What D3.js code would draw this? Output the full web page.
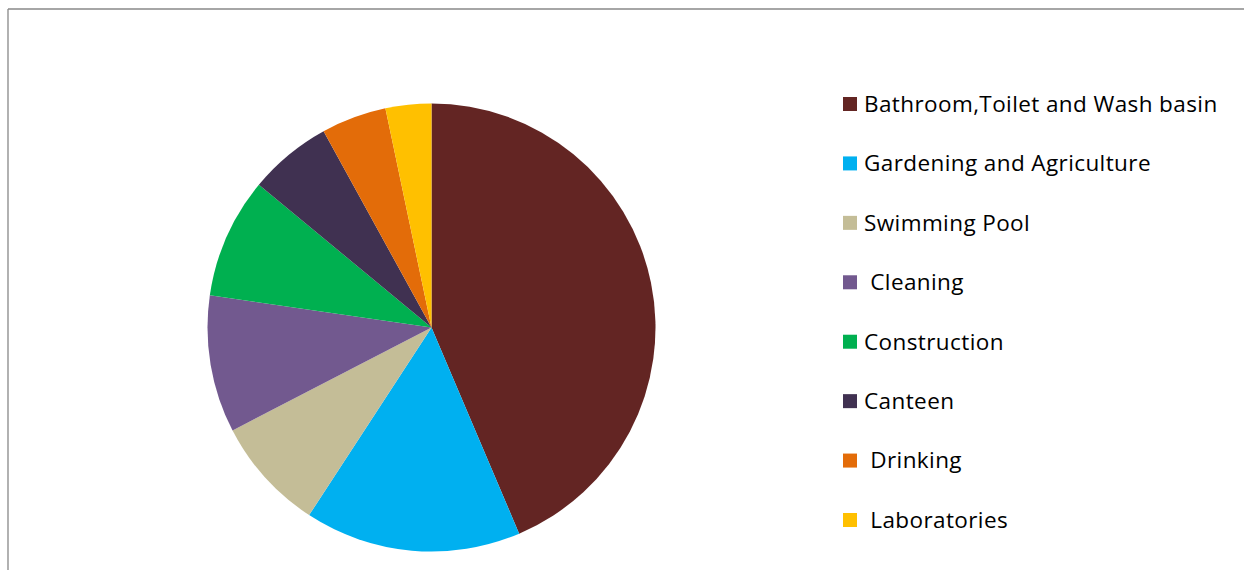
<!DOCTYPE html>
<html>
<head>
<meta charset="utf-8">
<script src="https://cdn.jsdelivr.net/npm/d3@7"></script>
<style>
  html, body { margin: 0; padding: 0; background: #fff; }
  svg { display: block; }
  .legend text { font-family: "Open Sans", Lato, sans-serif; font-size: 22.5px; letter-spacing: 0.4px; fill: #000; white-space: pre; }
</style>
</head>
<body>
<svg id="chart" width="1244" height="570"></svg>
<script>
// Water use by purpose (share of total, %)
const categories = [
  "Bathroom,Toilet and Wash basin",
  "Gardening and Agriculture",
  "Swimming Pool",
  " Cleaning",
  "Construction",
  "Canteen",
  " Drinking",
  " Laboratories"
];
const values = [43.6, 15.6, 8.2, 9.9, 8.7, 6.0, 4.7, 3.3];
const colors = ["#632523", "#00B0F0", "#C4BD97", "#72598F", "#00B050", "#403151", "#E36C09", "#FFC000"];

const width = 1244, height = 570;
const svg = d3.select("#chart");

// frame lines (left and top edges of the chart area)
svg.append("line").attr("x1", 8).attr("y1", 9).attr("x2", width).attr("y2", 9)
  .attr("stroke", "#888").attr("stroke-width", 1.3);
svg.append("line").attr("x1", 8).attr("y1", 9).attr("x2", 8).attr("y2", height)
  .attr("stroke", "#888").attr("stroke-width", 1.3);

const data = categories.map((c, i) => ({ name: c, value: values[i], color: colors[i] }));

const pie = d3.pie().value(d => d.value).sort(null);
const arc = d3.arc().innerRadius(0).outerRadius(224);

svg.append("g")
  .attr("transform", "translate(431.5,327.5)")
  .selectAll("path")
  .data(pie(data))
  .join("path")
  .attr("d", arc)
  .attr("fill", d => d.data.color);

// legend
const legend = svg.append("g").attr("class", "legend");
const rowY = d3.scaleLinear().domain([0, categories.length - 1]).range([104, 520]);
const rows = legend.selectAll("g").data(data).join("g")
  .attr("transform", (d, i) => `translate(843,${rowY(i)})`);
rows.append("rect").attr("x", 0).attr("y", -7).attr("width", 14).attr("height", 14)
  .attr("fill", d => d.color);
rows.append("text").attr("x", 21).attr("y", 0).attr("dy", "0.35em")
  .attr("xml:space", "preserve")
  .text(d => d.name);
</script>
</body>
</html>
